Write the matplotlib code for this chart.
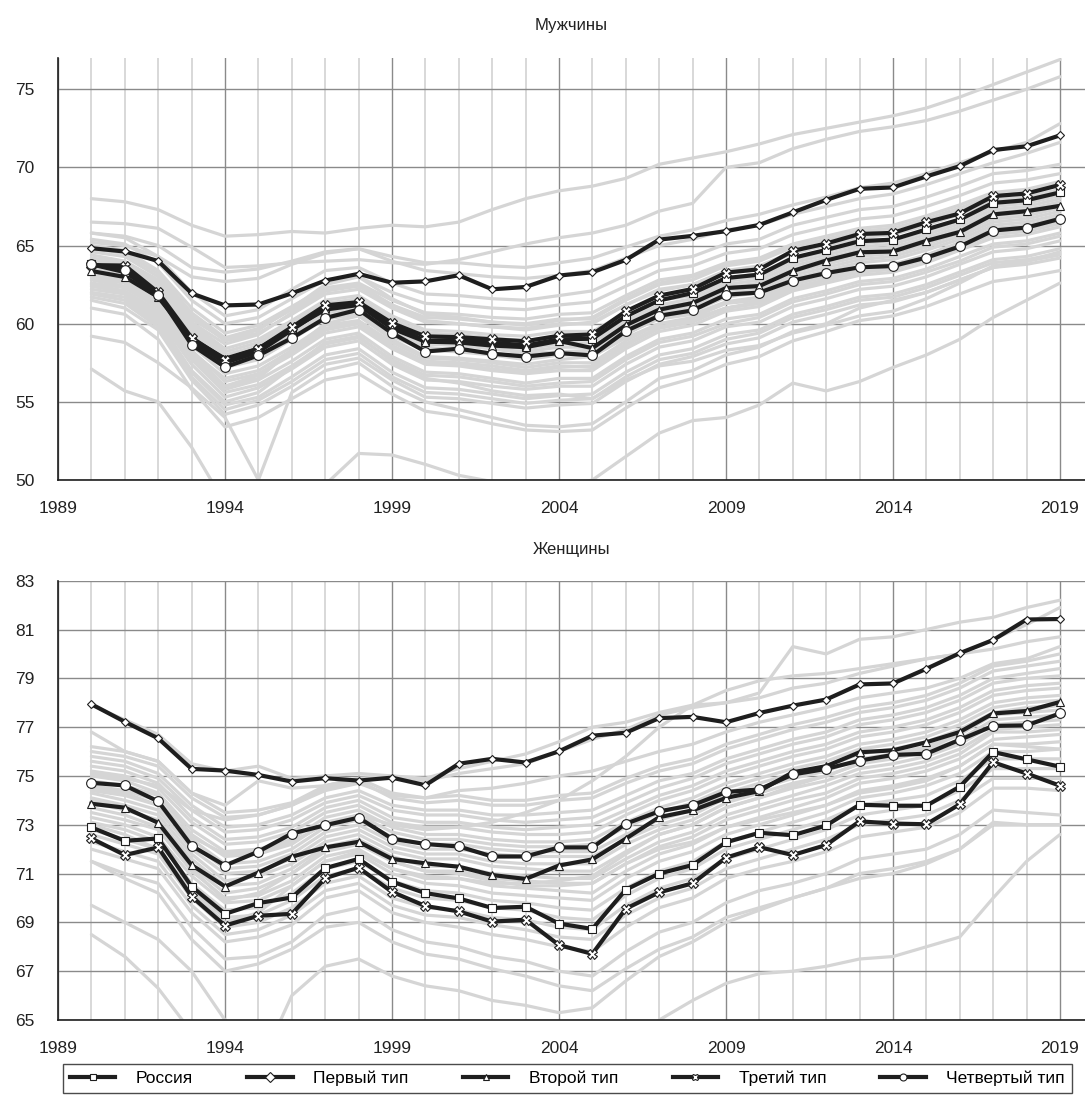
import matplotlib
matplotlib.use("Agg")
import matplotlib.pyplot as plt
import numpy as np

plt.rcParams['font.family'] = ['Liberation Sans', 'DejaVu Sans']

years = list(range(1990, 2020))

# ---- men: highlighted series
men_russia = [63.8, 63.3, 61.9, 58.9, 57.5, 58.2, 59.6, 61.0, 61.3, 59.9, 58.9, 58.95, 58.8, 58.6, 59.0,
              59.04, 60.47, 61.49, 61.96, 62.92, 63.14, 64.21, 64.72, 65.28, 65.38, 66.03, 66.67, 67.73, 67.9, 68.4]
men_type1 = [64.83, 64.62, 64.01, 61.94, 61.17, 61.23, 61.94, 62.76, 63.19, 62.62, 62.71, 63.10, 62.20, 62.35, 63.08,
             63.29, 64.08, 65.38, 65.62, 65.92, 66.32, 67.12, 67.92, 68.63, 68.72, 69.42, 70.08, 71.11, 71.35, 72.05]
men_type2 = [63.37, 62.99, 61.7, 59.04, 57.76, 58.4, 59.68, 60.9, 61.2, 59.7, 58.85, 58.8, 58.6, 58.5, 58.9,
             58.44, 59.9, 60.9, 61.32, 62.28, 62.41, 63.37, 64.04, 64.57, 64.62, 65.3, 65.87, 66.99, 67.2, 67.54]
men_type3 = [63.75, 63.72, 62.0, 59.1, 57.7, 58.4, 59.78, 61.17, 61.38, 60.04, 59.19, 59.14, 59.0, 58.88, 59.23,
             59.31, 60.79, 61.8, 62.22, 63.27, 63.48, 64.66, 65.13, 65.74, 65.81, 66.49, 67.05, 68.16, 68.33, 68.88]
men_type4 = [63.8, 63.44, 61.86, 58.65, 57.22, 57.97, 59.08, 60.36, 60.9, 59.4, 58.22, 58.4, 58.08, 57.9, 58.12,
             57.97, 59.53, 60.51, 60.85, 61.86, 61.99, 62.76, 63.24, 63.61, 63.69, 64.23, 64.94, 65.96, 66.15, 66.71]

# ---- men: regions (grey)
men_regions = [
    [68.0, 67.8, 67.3, 66.3, 65.6, 65.7, 65.9, 65.8, 66.1, 66.3, 66.2, 66.5, 67.3, 68.0, 68.5, 68.8, 69.3, 70.2, 70.6, 71.0, 71.5, 72.1, 72.5, 72.9, 73.3, 73.8, 74.5, 75.3, 76.1, 76.9],
    [66.5, 66.4, 66.1, 64.9, 63.6, 63.7, 63.9, 64.0, 64.1, 63.9, 63.8, 64.1, 64.6, 65.1, 65.5, 65.8, 66.3, 67.2, 67.7, 70.0, 70.3, 71.2, 71.8, 72.3, 72.6, 73.0, 73.6, 74.3, 75.0, 75.8],
    [65.8, 65.6, 65.0, 63.6, 63.3, 63.5, 64.0, 64.6, 64.8, 64.3, 63.9, 63.9, 63.7, 63.6, 63.9, 64.2, 64.9, 65.6, 66.0, 66.6, 67.0, 67.6, 68.1, 68.7, 69.0, 69.6, 70.3, 71.0, 71.6, 72.8],
    [65.2, 65.0, 64.3, 63.0, 62.7, 62.9, 63.8, 64.5, 64.8, 64.0, 63.4, 63.2, 63.0, 62.9, 63.1, 63.4, 64.2, 65.0, 65.4, 66.0, 66.3, 67.0, 67.5, 68.0, 68.3, 68.9, 69.6, 70.3, 70.9, 71.6],
    [57.1, 55.7, 55.0, 52.1, 48.5, 47.0, 47.0, 47.5, 48.0, 48.0, 47.5, 47.0, 46.5, 46.0, 46.0, 46.5, 47.5, 48.5, 49.0, 49.5, 49.6, 49.5, 49.3, 49.2, 49.0, 49.1, 49.2, 49.4, 49.5, 49.6],
    [59.2, 58.8, 57.5, 55.9, 54.0, 50.0, 55.6, 57.0, 57.5, 56.0, 55.0, 54.5, 54.0, 53.5, 53.4, 53.6, 55.0, 56.5, 57.0, 58.0, 58.5, 59.5, 60.0, 61.0, 61.5, 62.0, 62.8, 63.6, 64.0, 64.4],
    [48.0, 47.5, 47.0, 46.0, 45.0, 45.5, 47.0, 49.7, 51.7, 51.6, 51.0, 50.3, 49.9, 49.3, 49.5, 50.0, 51.5, 53.0, 53.8, 54.0, 54.8, 56.2, 55.7, 56.3, 57.2, 58.0, 59.0, 60.4, 61.5, 62.6],
    [61.0, 60.6, 59.0, 55.8, 53.4, 54.0, 55.2, 56.4, 56.8, 55.5, 54.4, 54.1, 53.6, 53.2, 53.1, 53.2, 54.6, 55.9, 56.5, 57.4, 57.9, 58.9, 59.5, 60.2, 60.5, 61.1, 61.9, 62.7, 63.0, 63.4],
    [61.5, 61.0, 59.6, 56.4, 54.2, 54.8, 56.0, 57.4, 57.8, 56.4, 55.3, 55.2, 54.9, 54.6, 54.8, 54.9, 56.3, 57.4, 57.9, 58.7, 59.1, 60.1, 60.6, 61.2, 61.4, 62.0, 62.8, 63.6, 63.8, 64.2],
    [61.9, 61.5, 60.0, 56.9, 54.8, 55.3, 56.6, 58.0, 58.4, 56.9, 55.9, 55.8, 55.5, 55.2, 55.4, 55.5, 56.9, 58.0, 58.4, 59.3, 59.6, 60.6, 61.1, 61.7, 61.9, 62.5, 63.3, 64.1, 64.3, 64.8],
    [62.2, 61.9, 60.4, 57.4, 55.3, 55.9, 57.1, 58.5, 58.9, 57.4, 56.4, 56.3, 56.0, 55.8, 56.0, 56.0, 57.4, 58.5, 58.9, 59.8, 60.1, 61.1, 61.6, 62.2, 62.4, 63.0, 63.8, 64.6, 64.8, 65.3],
    [62.5, 62.1, 60.8, 57.9, 55.8, 56.4, 57.6, 59.0, 59.4, 57.9, 56.9, 56.8, 56.5, 56.2, 56.5, 56.5, 57.9, 59.0, 59.4, 60.3, 60.6, 61.6, 62.1, 62.7, 62.9, 63.5, 64.3, 65.1, 65.3, 65.8],
    [62.8, 62.4, 61.1, 58.3, 56.3, 56.8, 58.0, 59.4, 59.8, 58.4, 57.4, 57.3, 57.0, 56.8, 57.0, 57.0, 58.4, 59.5, 59.9, 60.8, 61.1, 62.1, 62.6, 63.1, 63.3, 63.9, 64.7, 65.5, 65.7, 66.2],
    [63.0, 62.7, 61.4, 58.6, 56.8, 57.3, 58.5, 59.9, 60.2, 58.8, 57.8, 57.7, 57.5, 57.2, 57.5, 57.5, 58.9, 60.0, 60.4, 61.3, 61.5, 62.5, 63.0, 63.5, 63.7, 64.3, 65.0, 65.9, 66.1, 66.6],
    [63.3, 63.0, 61.7, 59.0, 57.2, 57.7, 59.0, 60.3, 60.6, 59.2, 58.3, 58.2, 58.0, 57.7, 58.0, 58.0, 59.3, 60.4, 60.8, 61.7, 62.0, 62.9, 63.4, 63.9, 64.1, 64.7, 65.4, 66.3, 66.5, 67.0],
    [63.6, 63.3, 62.0, 59.3, 57.6, 58.1, 59.4, 60.7, 61.0, 59.6, 58.7, 58.6, 58.4, 58.2, 58.5, 58.5, 59.8, 60.8, 61.2, 62.1, 62.4, 63.3, 63.8, 64.3, 64.5, 65.1, 65.8, 66.7, 66.9, 67.4],
    [63.9, 63.6, 62.3, 59.7, 58.0, 58.6, 59.8, 61.1, 61.4, 60.1, 59.2, 59.1, 58.9, 58.7, 59.0, 59.0, 60.2, 61.2, 61.6, 62.5, 62.8, 63.7, 64.2, 64.7, 64.9, 65.5, 66.2, 67.1, 67.3, 67.8],
    [64.2, 63.9, 62.6, 60.0, 58.4, 59.0, 60.2, 61.5, 61.8, 60.5, 59.6, 59.5, 59.3, 59.2, 59.5, 59.5, 60.7, 61.7, 62.0, 62.9, 63.2, 64.1, 64.6, 65.1, 65.3, 65.9, 66.6, 67.5, 67.7, 68.2],
    [64.6, 64.3, 63.0, 60.5, 58.9, 59.4, 60.6, 61.9, 62.2, 61.0, 60.1, 60.0, 59.8, 59.7, 60.0, 60.0, 61.2, 62.2, 62.5, 63.4, 63.7, 64.6, 65.1, 65.6, 65.8, 66.4, 67.1, 67.9, 68.1, 68.6],
    [65.0, 64.7, 63.4, 61.0, 59.4, 59.9, 61.1, 62.3, 62.6, 61.5, 60.7, 60.6, 60.4, 60.3, 60.6, 60.7, 61.8, 62.8, 63.1, 63.9, 64.2, 65.1, 65.6, 66.1, 66.3, 66.9, 67.6, 68.4, 68.6, 69.1],
    [65.4, 65.1, 63.9, 61.5, 60.0, 60.4, 61.6, 62.8, 63.0, 62.0, 61.3, 61.2, 61.0, 60.9, 61.2, 61.4, 62.4, 63.4, 63.7, 64.5, 64.8, 65.7, 66.2, 66.7, 66.9, 67.5, 68.2, 69.0, 69.2, 69.6],
    [65.8, 65.5, 64.3, 62.0, 60.5, 60.9, 62.2, 63.4, 63.6, 62.6, 61.9, 61.8, 61.6, 61.5, 61.8, 62.1, 63.1, 64.0, 64.3, 65.1, 65.4, 66.3, 66.8, 67.3, 67.5, 68.1, 68.8, 69.6, 69.8, 70.2],
    [62.0, 61.7, 60.2, 57.0, 55.0, 55.6, 57.2, 58.8, 59.2, 57.6, 56.5, 56.2, 55.7, 55.4, 55.5, 55.2, 56.4, 57.3, 57.6, 58.3, 58.6, 59.4, 59.9, 60.5, 60.8, 61.6, 62.6, 63.7, 64.0, 64.6],
    [63.1, 62.8, 61.3, 58.1, 56.0, 56.5, 58.3, 60.0, 60.5, 59.0, 57.9, 57.8, 57.6, 57.4, 57.7, 57.9, 59.1, 60.0, 60.3, 61.0, 61.3, 62.2, 62.8, 63.3, 63.5, 64.2, 65.0, 66.0, 66.2, 66.8],
    [64.4, 64.0, 62.8, 60.3, 59.0, 59.6, 61.0, 62.5, 63.0, 61.6, 60.6, 60.4, 60.1, 59.9, 60.2, 60.4, 61.6, 62.6, 63.0, 63.8, 64.1, 64.9, 65.4, 65.9, 66.1, 66.6, 67.3, 68.1, 68.4, 68.9],
    [62.6, 62.3, 61.0, 58.0, 56.0, 56.7, 58.2, 59.6, 60.0, 58.5, 57.5, 57.4, 57.1, 56.9, 57.2, 57.3, 58.7, 59.8, 60.2, 61.0, 61.4, 62.3, 62.8, 63.4, 63.6, 64.1, 64.9, 65.8, 66.0, 66.5],
    [63.4, 63.1, 61.9, 59.2, 57.4, 58.0, 59.2, 60.5, 60.8, 59.4, 58.5, 58.3, 58.1, 57.9, 58.2, 58.3, 59.6, 60.6, 61.0, 61.9, 62.2, 63.1, 63.6, 64.1, 64.3, 64.9, 65.6, 66.5, 66.7, 67.2],
    [64.0, 63.7, 62.4, 59.8, 58.2, 58.8, 60.0, 61.3, 61.6, 60.3, 59.4, 59.3, 59.1, 58.9, 59.2, 59.2, 60.5, 61.5, 61.8, 62.7, 63.0, 63.9, 64.4, 64.9, 65.1, 65.7, 66.4, 67.3, 67.5, 68.0],
    [62.9, 62.6, 61.2, 58.2, 56.5, 57.0, 58.3, 59.7, 60.1, 58.6, 57.6, 57.5, 57.3, 57.0, 57.3, 57.2, 58.6, 59.7, 60.1, 61.0, 61.3, 62.3, 62.8, 63.3, 63.5, 64.1, 64.9, 65.7, 65.9, 66.4],
    [63.7, 63.4, 62.1, 59.5, 57.8, 58.3, 59.6, 60.9, 61.2, 59.8, 58.9, 58.8, 58.6, 58.4, 58.7, 58.8, 60.0, 61.0, 61.4, 62.3, 62.6, 63.5, 64.0, 64.5, 64.7, 65.3, 66.0, 66.9, 67.1, 67.6],
    [61.7, 61.3, 59.8, 56.6, 54.5, 55.1, 56.3, 57.7, 58.1, 56.6, 55.6, 55.5, 55.2, 54.9, 55.1, 55.2, 56.6, 57.7, 58.1, 59.0, 59.4, 60.4, 60.9, 61.5, 61.7, 62.3, 63.1, 63.9, 64.1, 64.5],
    [64.8, 64.5, 63.2, 60.7, 59.1, 59.7, 60.9, 62.1, 62.4, 61.2, 60.4, 60.3, 60.1, 60.0, 60.3, 60.3, 61.5, 62.5, 62.8, 63.7, 64.0, 64.9, 65.4, 65.9, 66.1, 66.7, 67.4, 68.2, 68.4, 68.9],
    [62.4, 62.0, 60.6, 57.7, 55.6, 56.1, 57.3, 58.7, 59.1, 57.7, 56.7, 56.6, 56.3, 56.0, 56.2, 56.3, 57.7, 58.8, 59.2, 60.0, 60.4, 61.4, 61.9, 62.5, 62.7, 63.3, 64.0, 64.9, 65.1, 65.6],
    [63.5, 63.2, 61.8, 59.2, 57.4, 58.0, 59.5, 61.2, 61.6, 60.0, 58.9, 58.7, 58.4, 58.1, 58.2, 58.2, 59.4, 60.3, 60.6, 61.4, 61.7, 62.6, 63.1, 63.6, 63.8, 64.4, 65.2, 66.1, 66.3, 66.8],
    [64.1, 63.8, 62.5, 60.1, 58.7, 59.3, 60.7, 62.1, 62.5, 61.2, 60.2, 60.0, 59.8, 59.6, 59.9, 60.1, 61.2, 62.1, 62.5, 63.3, 63.6, 64.5, 65.0, 65.5, 65.7, 66.3, 67.0, 67.9, 68.1, 68.5],
]

# ---- women: highlighted series
women_russia = [72.89, 72.34, 72.44, 70.47, 69.35, 69.79, 70.02, 71.22, 71.6, 70.67, 70.2, 69.98, 69.59, 69.64, 68.95,
                68.73, 70.34, 71.0, 71.35, 72.28, 72.67, 72.57, 72.97, 73.82, 73.78, 73.78, 74.56, 75.98, 75.68, 75.38]
women_type1 = [77.94, 77.22, 76.54, 75.29, 75.22, 75.04, 74.77, 74.91, 74.81, 74.93, 74.62, 75.5, 75.7, 75.55, 76.01,
               76.65, 76.77, 77.37, 77.42, 77.2, 77.58, 77.88, 78.13, 78.75, 78.79, 79.39, 80.03, 80.57, 81.41, 81.43]
women_type2 = [73.86, 73.7, 73.08, 71.35, 70.47, 71.04, 71.69, 72.07, 72.3, 71.6, 71.42, 71.28, 70.94, 70.78, 71.33,
               71.58, 72.43, 73.31, 73.59, 74.1, 74.38, 75.15, 75.4, 75.97, 76.05, 76.38, 76.8, 77.56, 77.66, 78.03]
women_type3 = [72.44, 71.76, 72.07, 70.06, 68.87, 69.27, 69.35, 70.81, 71.24, 70.25, 69.67, 69.45, 69.03, 69.11, 68.07,
               67.71, 69.56, 70.23, 70.6, 71.65, 72.08, 71.76, 72.17, 73.14, 73.05, 73.02, 73.84, 75.56, 75.1, 74.6]
women_type4 = [74.72, 74.61, 73.96, 72.14, 71.33, 71.9, 72.64, 72.98, 73.29, 72.43, 72.21, 72.11, 71.7, 71.7, 72.07,
               72.07, 73.04, 73.55, 73.8, 74.34, 74.45, 75.06, 75.29, 75.63, 75.86, 75.91, 76.48, 77.05, 77.07, 77.56]

# ---- women: regions (grey)
women_regions = [
    [68.5, 67.6, 66.3, 64.5, 63.0, 62.0, 62.5, 63.5, 63.8, 63.5, 63.0, 62.8, 62.5, 62.3, 62.5, 63.0, 64.0, 65.0, 65.8, 66.5, 66.9, 67.0, 67.2, 67.5, 67.6, 68.0, 68.4, 70.0, 71.5, 72.6],
    [69.7, 69.0, 68.3, 67.0, 65.0, 63.0, 66.0, 67.2, 67.5, 66.8, 66.4, 66.2, 65.8, 65.6, 65.3, 65.5, 66.6, 67.6, 68.2, 69.0, 69.5, 70.0, 70.4, 70.8, 71.0, 71.4, 72.0, 73.0, 73.0, 73.0],
    [77.9, 77.3, 76.7, 75.5, 75.2, 75.4, 74.9, 75.0, 75.1, 75.0, 74.9, 75.3, 75.6, 75.9, 76.4, 77.0, 77.2, 77.6, 77.9, 78.0, 78.4, 80.3, 80.0, 80.6, 80.7, 81.0, 81.3, 81.5, 81.9, 82.2],
    [76.8, 76.0, 75.6, 74.3, 73.8, 74.8, 74.5, 74.6, 74.9, 75.0, 74.8, 75.1, 75.3, 75.5, 76.0, 76.5, 76.9, 77.5, 77.8, 78.0, 78.2, 78.6, 78.8, 79.2, 79.5, 79.8, 80.0, 80.6, 81.2, 81.9],
    [74.5, 74.3, 73.8, 72.5, 71.8, 71.9, 72.3, 73.0, 73.4, 73.0, 72.8, 72.9, 73.1, 73.5, 74.0, 74.8, 75.8, 77.0, 77.9, 78.5, 78.9, 79.1, 79.2, 79.4, 79.6, 79.8, 80.0, 80.2, 80.5, 80.7],
    [71.5, 70.8, 70.2, 68.3, 67.0, 67.3, 67.9, 68.8, 69.0, 68.2, 67.7, 67.5, 67.1, 66.8, 66.4, 66.2, 67.1, 67.9, 68.4, 69.2, 69.6, 70.0, 70.4, 71.0, 71.2, 71.5, 72.0, 73.1, 73.0, 73.0],
    [71.5, 71.0, 70.6, 68.8, 67.5, 67.6, 68.2, 69.3, 69.6, 68.7, 68.2, 68.0, 67.6, 67.4, 67.0, 66.8, 67.8, 68.6, 69.0, 69.8, 70.3, 70.6, 71.0, 71.6, 71.8, 72.0, 72.6, 73.6, 73.5, 73.4],
    [72.0, 71.6, 71.2, 69.4, 68.2, 68.4, 68.9, 70.0, 70.3, 69.4, 69.0, 68.8, 68.5, 68.3, 68.0, 67.8, 68.8, 69.6, 70.0, 70.8, 71.2, 71.5, 71.9, 72.5, 72.7, 72.9, 73.5, 74.5, 74.5, 74.4],
    [72.6, 72.2, 71.8, 70.0, 68.8, 69.0, 69.6, 70.6, 70.9, 70.0, 69.6, 69.5, 69.2, 69.1, 68.8, 68.7, 69.7, 70.4, 70.8, 71.6, 72.0, 72.4, 72.8, 73.4, 73.6, 73.8, 74.4, 75.3, 75.3, 75.3],
    [73.1, 72.8, 72.3, 70.6, 69.5, 69.6, 70.2, 71.2, 71.5, 70.7, 70.3, 70.2, 69.9, 69.8, 69.6, 69.5, 70.4, 71.1, 71.5, 72.3, 72.7, 73.1, 73.5, 74.1, 74.3, 74.6, 75.1, 76.0, 76.0, 76.1],
    [73.5, 73.2, 72.8, 71.1, 70.0, 70.1, 70.7, 71.7, 72.0, 71.2, 70.9, 70.8, 70.5, 70.4, 70.3, 70.2, 71.1, 71.8, 72.2, 72.9, 73.3, 73.7, 74.1, 74.7, 74.9, 75.2, 75.7, 76.5, 76.6, 76.7],
    [73.9, 73.6, 73.2, 71.6, 70.5, 70.6, 71.2, 72.1, 72.4, 71.7, 71.3, 71.3, 71.0, 70.9, 70.8, 70.8, 71.6, 72.3, 72.7, 73.4, 73.8, 74.2, 74.6, 75.1, 75.3, 75.6, 76.1, 76.9, 77.0, 77.1],
    [74.3, 74.0, 73.6, 72.0, 71.0, 71.1, 71.6, 72.5, 72.8, 72.1, 71.8, 71.8, 71.5, 71.4, 71.4, 71.4, 72.2, 72.8, 73.2, 73.9, 74.3, 74.7, 75.0, 75.5, 75.7, 76.0, 76.5, 77.3, 77.4, 77.5],
    [74.6, 74.4, 74.0, 72.4, 71.4, 71.5, 72.0, 72.9, 73.2, 72.5, 72.2, 72.2, 72.0, 71.9, 71.9, 71.9, 72.6, 73.2, 73.6, 74.3, 74.7, 75.1, 75.4, 75.9, 76.1, 76.4, 76.9, 77.6, 77.8, 77.9],
    [75.0, 74.8, 74.3, 72.8, 71.9, 72.0, 72.4, 73.3, 73.6, 72.9, 72.6, 72.6, 72.4, 72.3, 72.3, 72.4, 73.1, 73.7, 74.1, 74.7, 75.1, 75.5, 75.8, 76.3, 76.5, 76.8, 77.3, 78.0, 78.2, 78.3],
    [75.4, 75.2, 74.7, 73.3, 72.4, 72.5, 72.9, 73.7, 74.0, 73.3, 73.1, 73.1, 72.9, 72.8, 72.9, 73.0, 73.6, 74.2, 74.6, 75.2, 75.6, 76.0, 76.3, 76.8, 77.0, 77.3, 77.8, 78.5, 78.7, 78.8],
    [75.8, 75.6, 75.1, 73.8, 72.9, 73.0, 73.4, 74.1, 74.4, 73.8, 73.6, 73.6, 73.4, 73.4, 73.5, 73.6, 74.2, 74.8, 75.1, 75.7, 76.1, 76.5, 76.8, 77.3, 77.5, 77.8, 78.3, 79.0, 79.2, 79.4],
    [76.2, 76.0, 75.6, 74.3, 73.5, 73.6, 73.9, 74.6, 74.9, 74.3, 74.1, 74.2, 74.0, 74.0, 74.2, 74.3, 74.9, 75.4, 75.7, 76.3, 76.7, 77.1, 77.4, 77.8, 78.0, 78.3, 78.8, 79.5, 79.7, 80.0],
    [75.1, 74.9, 74.6, 73.6, 73.2, 73.4, 73.8, 74.4, 74.7, 74.2, 74.1, 74.4, 74.5, 74.7, 75.0, 75.2, 75.6, 76.0, 76.3, 76.8, 77.2, 77.5, 77.8, 78.2, 78.4, 78.6, 79.0, 79.6, 79.8, 80.3],
    [73.0, 72.6, 72.0, 70.2, 69.0, 69.4, 70.5, 71.5, 71.9, 71.2, 70.8, 70.8, 70.6, 70.6, 70.7, 70.9, 71.8, 72.6, 73.0, 73.7, 74.1, 74.6, 75.0, 75.5, 75.8, 76.1, 76.7, 77.6, 77.7, 77.9],
    [74.0, 73.7, 73.1, 71.2, 69.9, 70.2, 71.0, 71.9, 72.2, 71.5, 71.1, 71.0, 70.7, 70.5, 70.5, 70.6, 71.4, 72.0, 72.3, 72.9, 73.2, 73.5, 73.8, 74.3, 74.5, 74.8, 75.4, 76.3, 76.2, 76.1],
    [73.3, 73.0, 72.5, 70.9, 69.8, 69.9, 70.5, 71.5, 71.8, 71.0, 70.6, 70.5, 70.2, 70.1, 70.0, 69.9, 70.8, 71.5, 71.9, 72.6, 73.0, 73.4, 73.8, 74.4, 74.6, 74.9, 75.4, 76.3, 76.3, 76.4],
    [74.1, 73.8, 73.4, 71.8, 70.7, 70.9, 71.4, 72.3, 72.6, 71.9, 71.6, 71.6, 71.3, 71.2, 71.1, 71.1, 71.9, 72.6, 73.0, 73.7, 74.1, 74.5, 74.8, 75.3, 75.5, 75.8, 76.3, 77.1, 77.2, 77.3],
    [74.8, 74.6, 74.2, 72.6, 71.7, 71.8, 72.2, 73.1, 73.4, 72.7, 72.4, 72.4, 72.2, 72.1, 72.1, 72.2, 72.9, 73.5, 73.9, 74.5, 74.9, 75.3, 75.6, 76.1, 76.3, 76.6, 77.1, 77.8, 78.0, 78.1],
    [75.6, 75.4, 74.9, 73.6, 72.7, 72.8, 73.2, 73.9, 74.2, 73.6, 73.4, 73.4, 73.2, 73.1, 73.2, 73.3, 73.9, 74.5, 74.9, 75.5, 75.9, 76.3, 76.6, 77.1, 77.3, 77.6, 78.1, 78.8, 79.0, 79.1],
    [72.8, 72.4, 72.0, 70.3, 69.2, 69.3, 69.9, 70.9, 71.2, 70.4, 70.0, 69.9, 69.6, 69.5, 69.2, 69.1, 70.1, 70.8, 71.2, 72.0, 72.4, 72.8, 73.2, 73.8, 74.0, 74.2, 74.8, 75.7, 75.7, 75.7],
    [75.2, 75.0, 74.5, 73.1, 72.2, 72.3, 72.7, 73.5, 73.8, 73.1, 72.9, 72.9, 72.7, 72.6, 72.6, 72.7, 73.4, 74.0, 74.4, 75.0, 75.4, 75.8, 76.1, 76.6, 76.8, 77.1, 77.6, 78.3, 78.5, 78.6],
    [74.4, 74.2, 73.8, 72.2, 71.2, 71.3, 71.8, 72.7, 73.0, 72.3, 72.0, 72.0, 71.8, 71.7, 71.7, 71.7, 72.4, 73.0, 73.4, 74.1, 74.5, 74.9, 75.2, 75.7, 75.9, 76.2, 76.7, 77.5, 77.6, 77.7],
    [76.0, 75.8, 75.4, 74.1, 73.3, 73.4, 73.8, 74.5, 74.8, 74.1, 73.9, 74.0, 73.8, 73.8, 74.0, 74.1, 74.7, 75.2, 75.5, 76.1, 76.5, 76.9, 77.2, 77.6, 77.8, 78.1, 78.6, 79.3, 79.5, 79.7],
    [73.7, 73.4, 72.9, 71.3, 70.2, 70.4, 71.0, 72.0, 72.3, 71.5, 71.1, 71.1, 70.8, 70.7, 70.6, 70.6, 71.4, 72.1, 72.5, 73.2, 73.6, 74.0, 74.3, 74.9, 75.1, 75.4, 75.9, 76.8, 76.8, 76.9],
    [72.3, 71.9, 71.5, 69.7, 68.5, 68.7, 69.3, 70.3, 70.6, 69.7, 69.3, 69.2, 68.9, 68.7, 68.4, 68.3, 69.3, 70.0, 70.4, 71.2, 71.6, 72.0, 72.4, 73.0, 73.2, 73.4, 74.0, 74.9, 74.9, 74.9],
]

labels = ['Россия', 'Первый тип', 'Второй тип', 'Третий тип', 'Четвертый тип']
markers = ['s', 'D', '^', 'X', 'o']
msizes = [6, 4.5, 6, 6.5, 7]

W, H = 1085, 1104
fig = plt.figure(figsize=(W / 100, H / 100), dpi=100)

ax_m = fig.add_axes([58 / W, 1 - 480 / H, (W - 58) / W, 422 / H])
ax_w = fig.add_axes([58 / W, 1 - 1020 / H, (W - 58) / W, (1020 - 580.7) / H])


def draw_panel(ax, regions, series, ylim, yticks, title, tpad):
    for r in regions:
        ax.plot(years, r, color='#d5d5d5', lw=2.3, zorder=2, solid_capstyle='round')
    handles = []
    for vals, mk, ms, lab in zip(series, markers, msizes, labels):
        h, = ax.plot(years, vals, color='#1e1e1e', lw=3.0, marker=mk, markersize=ms,
                     markerfacecolor='white', markeredgecolor='#1e1e1e', markeredgewidth=0.8,
                     zorder=4, label=lab)
        handles.append(h)
    ax.set_xlim(1989, 2019.75)
    ax.set_ylim(*ylim)
    ax.set_xticks(range(1989, 2020, 5))
    ax.set_xticks(range(1990, 2020), minor=True)
    ax.set_yticks(yticks)
    ax.grid(which='minor', axis='x', color='#d8d8d8', lw=1.4, zorder=0)
    ax.grid(which='major', axis='x', color='#8a8a8a', lw=1.0, zorder=1)
    ax.grid(which='major', axis='y', color='#8a8a8a', lw=1.0, zorder=1)
    ax.set_axisbelow(True)
    ax.tick_params(which='both', length=0)
    ax.tick_params(axis='y', pad=17, labelsize=12.5, labelcolor='#222222')
    ax.tick_params(axis='x', pad=15, labelsize=12.5, labelcolor='#222222')
    for s in ['top', 'right']:
        ax.spines[s].set_visible(False)
    for s in ['left', 'bottom']:
        ax.spines[s].set_color('#1e1e1e')
        ax.spines[s].set_linewidth(1.2)
    ax.set_title(title, fontsize=12, pad=tpad, color='#222222')
    return handles


draw_panel(ax_m, men_regions, [men_russia, men_type1, men_type2, men_type3, men_type4],
           (50, 77.0), [50, 55, 60, 65, 70, 75], 'Мужчины', 20)
handles = draw_panel(ax_w, women_regions, [women_russia, women_type1, women_type2, women_type3, women_type4],
                     (65, 83), [65, 67, 69, 71, 73, 75, 77, 79, 81, 83], 'Женщины', 19)

leg = fig.legend(handles, labels, loc='lower left', ncol=5, mode='expand',
                 bbox_to_anchor=(63 / W, 11 / H, (1072 - 63) / W, 31 / H),
                 frameon=True, fancybox=False, edgecolor='#1e1e1e', fontsize=12.5,
                 handlelength=2.6, borderaxespad=0.0, handletextpad=1.2)
leg.get_frame().set_linewidth(1.0)
for h in leg.legend_handles:
    h.set_markersize(5)

fig.savefig('out.png', dpi=100)
